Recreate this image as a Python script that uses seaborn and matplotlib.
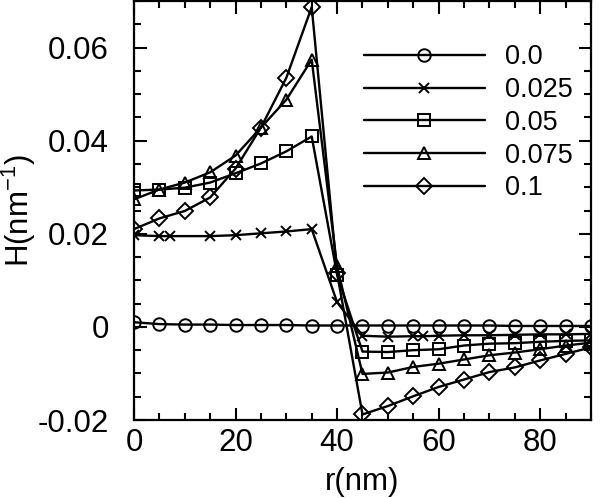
import matplotlib
matplotlib.use("Agg")
import matplotlib.pyplot as plt
import seaborn as sns
from matplotlib.ticker import MultipleLocator, FuncFormatter


# Data
r = [0, 5, 10, 15, 20, 25, 30, 35, 40, 45, 50, 55, 60, 65, 70, 75, 80, 85, 90]
r_x = [0, 5, 7, 15, 20, 25, 30, 35, 40, 45, 50, 55, 57, 60, 65, 70, 75, 80, 85, 90]

h_00 = [0.0010, 0.0006, 0.0005, 0.0005, 0.0004, 0.0004, 0.0004, 0.0003, 0.0003, 0.0003,
        0.0003, 0.0003, 0.0003, 0.0003, 0.0003, 0.0002, 0.0002, 0.0002, 0.0002]
h_025 = [0.0197, 0.0195, 0.0195, 0.0195, 0.0197, 0.0201, 0.0205, 0.0210, 0.0053, -0.0019,
         -0.0021, -0.0020, -0.0020, -0.0019, -0.0018, -0.0018, -0.0017, -0.0016, -0.0016, -0.0015]
h_05 = [0.0293, 0.0295, 0.0299, 0.0310, 0.0330, 0.0351, 0.0377, 0.0409, 0.0112, -0.0053,
        -0.0054, -0.0050, -0.0048, -0.0040, -0.0036, -0.0035, -0.0032, -0.0030, -0.0029]
h_075 = [0.0274, 0.0295, 0.0310, 0.0332, 0.0368, 0.0428, 0.0488, 0.0574, 0.0130, -0.0101,
         -0.0098, -0.0086, -0.0079, -0.0070, -0.0061, -0.0055, -0.0048, -0.0040, -0.0034]
h_1 = [0.0210, 0.0233, 0.0249, 0.0278, 0.0340, 0.0428, 0.0535, 0.0687, 0.0115, -0.0188,
       -0.0170, -0.0149, -0.0129, -0.0113, -0.0097, -0.0087, -0.0072, -0.0058, -0.0044]

series = [
    ("0.0", r, h_00, "o", 9),
    ("0.025", r_x, h_025, "x", 7),
    ("0.05", r, h_05, "s", 8),
    ("0.075", r, h_075, "^", 9),
    ("0.1", r, h_1, "D", 8),
]

sns.set_style("ticks")
plt.rcParams["font.family"] = ["Liberation Sans", "DejaVu Sans"]
plt.rcParams["mathtext.default"] = "regular"
plt.rcParams["axes.unicode_minus"] = False
plt.rcParams["text.color"] = "black"
plt.rcParams["axes.labelcolor"] = "black"
plt.rcParams["xtick.color"] = "black"
plt.rcParams["ytick.color"] = "black"
plt.rcParams["axes.edgecolor"] = "black"

fig = plt.figure(figsize=(6, 4.98), dpi=100)
ax = fig.add_axes([0.2233, 0.1566, 0.7617, 0.8414])

for label, xs, ys, mk, ms in series:
    sns.lineplot(x=xs, y=ys, ax=ax, color="black", linewidth=1.7, marker=mk,
                 markersize=ms, markerfacecolor="none", markeredgecolor="black",
                 markeredgewidth=1.4, label=label)

ax.set_xlim(0, 90)
ax.set_ylim(-0.02, 0.07)
ax.xaxis.set_major_locator(MultipleLocator(20))
ax.xaxis.set_minor_locator(MultipleLocator(5))
ax.yaxis.set_major_locator(MultipleLocator(0.02))
ax.yaxis.set_minor_locator(MultipleLocator(0.005))
ax.yaxis.set_major_formatter(FuncFormatter(lambda v, p: "0" if abs(v) < 1e-9 else f"{v:.2f}"))

ax.tick_params(which="both", direction="in", top=True, right=True, width=1.5, labelsize=22.5)
ax.tick_params(which="major", length=9)
ax.tick_params(which="minor", length=5)
ax.tick_params(axis="y", which="major", pad=18)
ax.tick_params(axis="x", which="major", pad=6)
for sp in ax.spines.values():
    sp.set_linewidth(1.6)

ax.set_xlabel("r(nm)", fontsize=22.5, labelpad=6)
ax.set_ylabel("H(nm$^{-1}$)", fontsize=22.5)
ax.yaxis.set_label_coords(-0.21, 0.5)

ax.legend(loc="upper left", bbox_to_anchor=(0.449, 0.955), frameon=False, fontsize=19.5,
          handlelength=4.5, handletextpad=0.74, labelspacing=0.25, borderpad=0.4)

plt.savefig("out.png", dpi=100)
